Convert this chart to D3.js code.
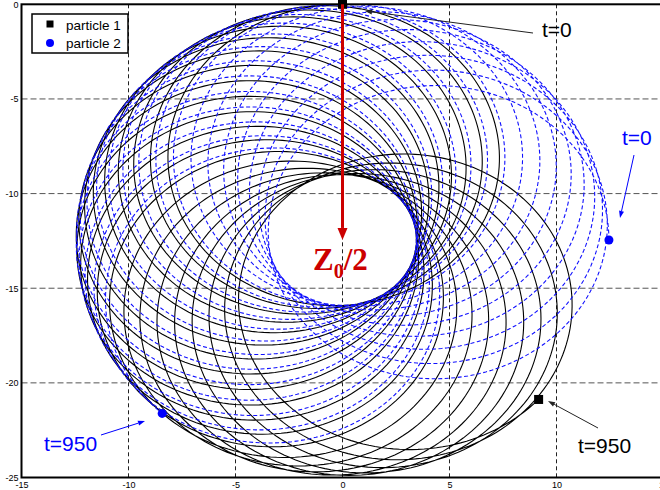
<!DOCTYPE html>
<html>
<head>
<meta charset="utf-8">
<script src="https://cdn.jsdelivr.net/npm/d3@7"></script>
<style>
  body { margin: 0; background: #fff; }
  svg { display: block; }
</style>
</head>
<body>
<svg id="chart" width="660" height="490"></svg>
<script>
// Axis ticks
const xTicks = [-15, -10, -5, 0, 5, 10, 15];
const yTicks = [0, -5, -10, -15, -20, -25];

// Two particles in the trap: slow magnetron drift + fast cyclotron loops
const seriesNames = ["particle 1", "particle 2"];
const trapCenter = [0, -12.45];          // (x, z) of the trap axis
const magnetronRadius = [4.5, 4.5];      // slow guiding-centre radius
const cyclotronRadius = [7.95, 7.95];    // fast loop radius
const startPhaseDeg = [90, 0];           // phase of both motions at t = 0
const magnetronSweepDeg = [227.4, 227.4];// drift of the guiding centre over the run
const cyclotronTurns = [21, 21];         // full fast loops over the run
const timeSpan = [0, 950];
const markerTimes = [0, 950];

const svg = d3.select("#chart");

const x = d3.scaleLinear().domain([-15, 15]).range([21.5, 663.5]);
const y = d3.scaleLinear().domain([0, -25]).range([4.3, 477.5]);

function position(i, t) {
  const T = timeSpan[1] - timeSpan[0];
  const p0 = startPhaseDeg[i] * Math.PI / 180;
  const slow = p0 + (magnetronSweepDeg[i] * Math.PI / 180) * (t / T);
  const fast = p0 + ((magnetronSweepDeg[i] + 360 * cyclotronTurns[i]) * Math.PI / 180) * (t / T);
  return [
    trapCenter[0] + magnetronRadius[i] * Math.cos(slow) + cyclotronRadius[i] * Math.cos(fast),
    trapCenter[1] + magnetronRadius[i] * Math.sin(slow) + cyclotronRadius[i] * Math.sin(fast)
  ];
}

function trajectory(i) {
  const n = cyclotronTurns[i] * 180;
  return d3.range(n + 1).map(k => position(i, timeSpan[0] + (timeSpan[1] - timeSpan[0]) * k / n));
}

svg.append("defs").append("clipPath").attr("id", "plot-clip")
  .append("rect")
  .attr("x", x(-15)).attr("y", y(0))
  .attr("width", x(15) - x(-15)).attr("height", y(-25) - y(0));

// Grid
const grid = svg.append("g");
grid.selectAll("line.v").data(xTicks.filter(d => d > -15 && d < 15)).join("line")
  .attr("x1", d => x(d)).attr("x2", d => x(d))
  .attr("y1", y(0)).attr("y2", y(-25))
  .attr("stroke", "#222").attr("stroke-width", 1).attr("stroke-dasharray", "4,3");
grid.selectAll("line.h").data(yTicks.filter(d => d < 0 && d > -25)).join("line")
  .attr("x1", x(-15)).attr("x2", x(15))
  .attr("y1", d => y(d)).attr("y2", d => y(d))
  .attr("stroke", "#555").attr("stroke-width", 1).attr("stroke-dasharray", "6,3");

// Trajectories
const colors = ["#000000", "#1010ff"];
const dashes = [null, "4,2.5"];
const line = d3.line().x(d => x(d[0])).y(d => y(d[1]));
const curves = svg.append("g").attr("clip-path", "url(#plot-clip)");
[0, 1].forEach(i => {
  curves.append("path")
    .attr("d", line(trajectory(i)))
    .attr("fill", "none")
    .attr("stroke", colors[i])
    .attr("stroke-width", 1.1)
    .attr("stroke-dasharray", dashes[i]);
});

// Start / end markers
const markers = svg.append("g");
markerTimes.forEach(t => {
  const p1 = position(0, t);
  markers.append("rect")
    .attr("x", x(p1[0]) - 4.5).attr("y", y(p1[1]) - 4.5)
    .attr("width", 9).attr("height", 9).attr("fill", "#000");
  const p2 = position(1, t);
  markers.append("circle")
    .attr("cx", x(p2[0])).attr("cy", y(p2[1])).attr("r", 4.5).attr("fill", "#0000ff");
});

// Axes
const xAxis = svg.append("g").attr("transform", `translate(0,${y(-25)})`)
  .call(d3.axisBottom(x).tickValues(xTicks).tickSize(0).tickPadding(4).tickFormat(d => String(d)));
const yAxis = svg.append("g").attr("transform", `translate(${x(-15)},0)`)
  .call(d3.axisLeft(y).tickValues(yTicks).tickSize(0).tickPadding(3).tickFormat(d => String(d)));
[xAxis, yAxis].forEach(a => {
  a.select(".domain").remove();
  a.selectAll("text").attr("font-family", "Liberation Sans, Arial, sans-serif")
    .attr("font-size", 9).attr("fill", "#000");
});

// Frame
svg.append("rect")
  .attr("x", x(-15)).attr("y", y(0))
  .attr("width", x(15) - x(-15)).attr("height", y(-25) - y(0))
  .attr("fill", "none").attr("stroke", "#000").attr("stroke-width", 2);

// Legend
const legend = svg.append("g");
legend.append("rect").attr("x", 32).attr("y", 14).attr("width", 96).attr("height", 39)
  .attr("fill", "#fff").attr("stroke", "#000").attr("stroke-width", 1.5);
legend.append("rect").attr("x", 46.5).attr("y", 20.5).attr("width", 7).attr("height", 7).attr("fill", "#000");
legend.append("circle").attr("cx", 50).attr("cy", 43).attr("r", 4).attr("fill", "#0000ff");
legend.selectAll("text").data(seriesNames).join("text")
  .attr("x", 66).attr("y", (d, i) => 29.5 + i * 18.5)
  .attr("font-family", "Liberation Sans, Arial, sans-serif").attr("font-size", 13.5)
  .attr("fill", "#000").text(d => d);

// Annotation arrows
function arrow(g, x1, y1, x2, y2, color, width, headLen, headW) {
  const a = Math.atan2(y2 - y1, x2 - x1);
  const bx = x2 - headLen * Math.cos(a), by = y2 - headLen * Math.sin(a);
  g.append("line").attr("x1", x1).attr("y1", y1).attr("x2", bx).attr("y2", by)
    .attr("stroke", color).attr("stroke-width", width);
  const nx = -Math.sin(a) * headW / 2, ny = Math.cos(a) * headW / 2;
  g.append("path")
    .attr("d", `M${x2},${y2}L${bx + nx},${by + ny}L${bx - nx},${by - ny}Z`)
    .attr("fill", color);
}
const ann = svg.append("g");
arrow(ann, 533, 33, 365, 11, "#222", 1, 7, 5);
arrow(ann, 598, 428, 548, 401, "#222", 1, 7, 5);
arrow(ann, 634, 155, 620, 218, "#0000ff", 1, 7, 5);
arrow(ann, 101, 435, 145, 421, "#0000ff", 1, 7, 5);

const annFont = "Liberation Sans, Arial, sans-serif";
[
  { t: "t=0", x: 542, y: 37, c: "#000" },
  { t: "t=950", x: 578, y: 453, c: "#000" },
  { t: "t=0", x: 622, y: 145, c: "#0000ff" },
  { t: "t=950", x: 44, y: 451, c: "#0000ff" }
].forEach(d => {
  ann.append("text").attr("x", d.x).attr("y", d.y)
    .attr("font-family", annFont).attr("font-size", 21).attr("fill", d.c).text(d.t);
});

// Z0/2: distance from the top of the trap to its centre
const red = "#cc0000";
arrow(svg, x(trapCenter[0]), y(0), x(trapCenter[0]), y(trapCenter[1]), red, 3, 12, 10);
const zl = svg.append("text").attr("x", 313).attr("y", 270)
  .attr("font-family", "Liberation Serif, Times New Roman, serif")
  .attr("font-weight", "bold").attr("font-size", 31).attr("fill", red);
zl.append("tspan").text("Z");
zl.append("tspan").attr("font-size", 20).attr("dy", 8).text("0");
zl.append("tspan").attr("dy", -8).text("/2");
</script>
</body>
</html>
